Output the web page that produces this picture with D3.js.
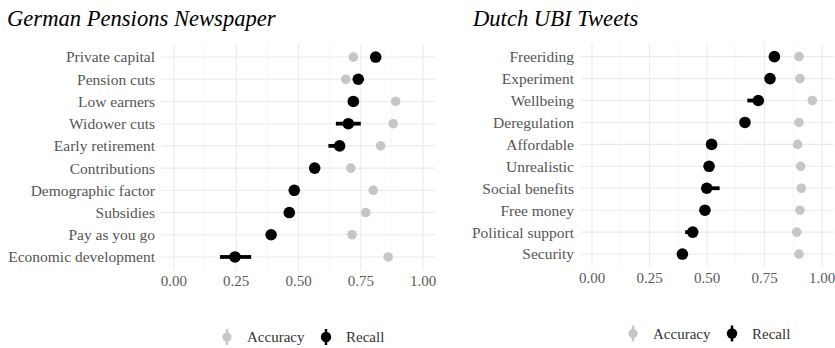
<!DOCTYPE html>
<html>
<head>
<meta charset="utf-8">
<script src="https://cdn.jsdelivr.net/npm/d3@7"></script>
<style>
  html, body { margin: 0; padding: 0; background: #fff; }
  svg { display: block; }
</style>
</head>
<body>
<svg id="chart" width="835" height="348"></svg>
<script>
// ---- German pensions (newspaper) ----
const deCategories = ["Private capital", "Pension cuts", "Low earners", "Widower cuts", "Early retirement",
  "Contributions", "Demographic factor", "Subsidies", "Pay as you go", "Economic development"];
const deAccuracy = [0.72, 0.69, 0.89, 0.88, 0.83, 0.71, 0.80, 0.77, 0.715, 0.86];
const deRecall = [0.81, 0.74, 0.72, 0.70, 0.665, 0.565, 0.483, 0.463, 0.39, 0.245];
const deRecallLow = [0.81, 0.74, 0.715, 0.65, 0.62, 0.565, 0.483, 0.463, 0.385, 0.185];
const deRecallHigh = [0.81, 0.74, 0.725, 0.75, 0.67, 0.565, 0.483, 0.463, 0.395, 0.31];

// ---- Dutch UBI (tweets) ----
const nlCategories = ["Freeriding", "Experiment", "Wellbeing", "Deregulation", "Affordable",
  "Unrealistic", "Social benefits", "Free money", "Political support", "Security"];
const nlAccuracy = [0.90, 0.904, 0.958, 0.90, 0.894, 0.907, 0.91, 0.904, 0.89, 0.90];
const nlRecall = [0.793, 0.774, 0.723, 0.665, 0.52, 0.509, 0.499, 0.491, 0.438, 0.393];
const nlRecallLow = [0.793, 0.774, 0.675, 0.665, 0.50, 0.509, 0.495, 0.491, 0.405, 0.393];
const nlRecallHigh = [0.793, 0.774, 0.735, 0.665, 0.525, 0.509, 0.555, 0.491, 0.44, 0.393];

const xTicks = [0, 0.25, 0.5, 0.75, 1];
const xMinorTicks = [0.125, 0.375, 0.625, 0.875];
const seriesNames = ["Accuracy", "Recall"];
const seriesColors = ["#c6c6c6", "#000000"];

const svg = d3.select("#chart");
const serif = "'Liberation Serif', 'Times New Roman', serif";

function panel(opt) {
  const g = svg.append("g");
  const x = d3.scaleLinear().domain([-0.05, 1.05]).range([opt.x0, opt.x1]);
  const y = d3.scalePoint().domain(opt.categories).range([opt.y0, opt.y1]).padding(0.6);

  // grid
  g.selectAll("line.minor").data(xMinorTicks).join("line")
    .attr("x1", d => x(d)).attr("x2", d => x(d))
    .attr("y1", opt.y0).attr("y2", opt.y1)
    .attr("stroke", "#f2f2f2").attr("stroke-width", 0.7);
  g.selectAll("line.major").data(xTicks).join("line")
    .attr("x1", d => x(d)).attr("x2", d => x(d))
    .attr("y1", opt.y0).attr("y2", opt.y1)
    .attr("stroke", "#ebebeb").attr("stroke-width", 1.1);
  g.selectAll("line.hgrid").data(opt.categories).join("line")
    .attr("x1", opt.x0).attr("x2", opt.x1)
    .attr("y1", d => y(d)).attr("y2", d => y(d))
    .attr("stroke", "#ebebeb").attr("stroke-width", 1.1);

  // y labels
  g.selectAll("text.ylab").data(opt.categories).join("text")
    .attr("x", opt.x0 - 6.5).attr("y", d => y(d))
    .attr("dy", "0.35em").attr("text-anchor", "end")
    .attr("font-family", serif).attr("font-size", 15.5)
    .attr("fill", "#555").text(d => d);

  // x tick labels
  g.selectAll("text.xlab").data(xTicks).join("text")
    .attr("x", d => x(d)).attr("y", opt.y1 + 16)
    .attr("text-anchor", "middle")
    .attr("font-family", serif).attr("font-size", 15)
    .attr("fill", "#5a5a5a").text(d => d3.format(".2f")(d));

  // accuracy points
  g.selectAll("circle.acc").data(opt.categories).join("circle")
    .attr("cx", (d, i) => x(opt.accuracy[i])).attr("cy", d => y(d))
    .attr("r", 4.8).attr("fill", seriesColors[0]);

  // recall ranges and points
  g.selectAll("line.rec").data(opt.categories).join("line")
    .attr("x1", (d, i) => x(opt.low[i])).attr("x2", (d, i) => x(opt.high[i]))
    .attr("y1", d => y(d)).attr("y2", d => y(d))
    .attr("stroke", seriesColors[1]).attr("stroke-width", 3.8);
  g.selectAll("circle.rec").data(opt.categories).join("circle")
    .attr("cx", (d, i) => x(opt.recall[i])).attr("cy", d => y(d))
    .attr("r", 5.8).attr("fill", seriesColors[1]);

  // title
  g.append("text").attr("x", opt.titleX).attr("y", 26)
    .attr("font-family", serif).attr("font-style", "italic")
    .attr("font-size", 22.6).attr("fill", "#000").text(opt.title);

  // legend
  const lg = g.append("g").attr("transform", `translate(${opt.legendX},${opt.legendY})`);
  const offsets = [0, 99];
  seriesNames.forEach((name, i) => {
    const k = lg.append("g").attr("transform", `translate(${offsets[i]},0)`);
    k.append("line").attr("x1", 0).attr("x2", 0).attr("y1", -8).attr("y2", 8)
      .attr("stroke", seriesColors[i]).attr("stroke-width", 2.5);
    k.append("circle").attr("cx", 0).attr("cy", 0).attr("r", i === 0 ? 4.6 : 5.2)
      .attr("fill", seriesColors[i]);
    k.append("text").attr("x", 20).attr("y", 0).attr("dy", "0.35em")
      .attr("font-family", serif).attr("font-size", 15)
      .attr("fill", "#333").text(name);
  });
}

panel({
  title: "German Pensions Newspaper", titleX: 7,
  categories: deCategories, accuracy: deAccuracy, recall: deRecall,
  low: deRecallLow, high: deRecallHigh,
  x0: 161.5, x1: 435.5, y0: 43.7, y1: 270.3,
  legendX: 227, legendY: 337
});

panel({
  title: "Dutch UBI Tweets", titleX: 473,
  categories: nlCategories, accuracy: nlAccuracy, recall: nlRecall,
  low: nlRecallLow, high: nlRecallHigh,
  x0: 580.5, x1: 833.5, y0: 43.5, y1: 267.2,
  legendX: 633, legendY: 333.5
});
</script>
</body>
</html>
